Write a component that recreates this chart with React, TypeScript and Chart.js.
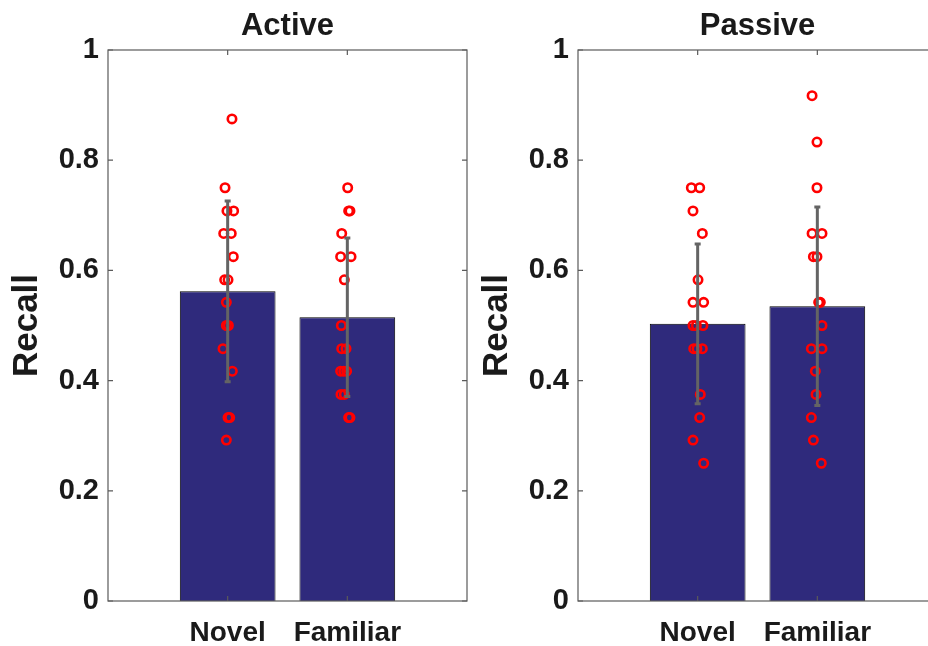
import React, { useEffect, useRef } from "react";
import { Chart, registerables } from "chart.js";

Chart.register(...registerables);

const categories = ["Novel", "Familiar"];
const yTicks = [0, 0.2, 0.4, 0.6, 0.8, 1];
const yTickLabels = ["0", "0.2", "0.4", "0.6", "0.8", "1"];

const activeMeans = [0.562, 0.515];
const activeErrors = [0.164, 0.144];
const passiveMeans = [0.503, 0.535];
const passiveErrors = [0.145, 0.18];

const activeNovel = [0.875, 0.75, 0.708, 0.708, 0.667, 0.667, 0.625, 0.583, 0.583, 0.542, 0.5, 0.5, 0.458, 0.417, 0.333, 0.333, 0.292];
const activeNovelJitter = [0.036, -0.022, -0.006, 0.05, -0.033, 0.03, 0.047, -0.025, 0.003, -0.011, -0.011, 0.006, -0.039, 0.039, 0.003, 0.017, -0.011];
const activeFamiliar = [0.75, 0.708, 0.708, 0.667, 0.625, 0.625, 0.583, 0.5, 0.458, 0.458, 0.417, 0.417, 0.417, 0.375, 0.375, 0.333, 0.333];
const activeFamiliarJitter = [0.003, 0.011, 0.022, -0.047, -0.056, 0.031, -0.025, -0.05, -0.047, -0.011, -0.056, -0.006, -0.03, -0.053, -0.025, 0.011, 0.022];

const passiveNovel = [0.75, 0.75, 0.708, 0.667, 0.583, 0.542, 0.542, 0.5, 0.5, 0.5, 0.458, 0.458, 0.458, 0.375, 0.333, 0.292, 0.25];
const passiveNovelJitter = [-0.053, 0.017, -0.039, 0.039, 0.003, -0.039, 0.05, -0.039, -0.011, 0.044, -0.033, 0.039, -0.006, 0.022, 0.017, -0.039, 0.05];
const passiveFamiliar = [0.917, 0.833, 0.75, 0.667, 0.667, 0.625, 0.625, 0.542, 0.542, 0.5, 0.458, 0.458, 0.417, 0.375, 0.333, 0.292, 0.25];
const passiveFamiliarJitter = [-0.044, -0.003, -0.003, -0.044, 0.039, -0.033, -0.003, 0.011, 0.025, 0.039, -0.05, 0.039, -0.017, -0.011, -0.05, -0.033, 0.033];

const FONT = "'Liberation Sans', Arial, Helvetica, sans-serif";
const TEXT = "#1a1a1a";
const BAR = "#2f2a7c";
const AXIS = "#5a5a5a";

const panelPlugin = {
  id: "panel",
  afterDatasetsDraw(chart: any, _args: any, opts: any) {
    const { ctx, chartArea, scales } = chart;
    const { left, right, top, bottom } = chartArea;
    const x = scales.x;
    const y = scales.y;
    ctx.save();
    // error bars
    ctx.strokeStyle = "#646464";
    ctx.lineWidth = 3;
    (opts.means as number[]).forEach((m: number, i: number) => {
      const px = x.getPixelForValue(i + 1);
      const yt = y.getPixelForValue(m + opts.errors[i]);
      const yb = y.getPixelForValue(m - opts.errors[i]);
      ctx.beginPath();
      ctx.moveTo(px, yt);
      ctx.lineTo(px, yb);
      ctx.moveTo(px - 3, yt);
      ctx.lineTo(px + 3, yt);
      ctx.moveTo(px - 3, yb);
      ctx.lineTo(px + 3, yb);
      ctx.stroke();
    });
    // box
    ctx.strokeStyle = AXIS;
    ctx.lineWidth = 1.2;
    ctx.strokeRect(left, top, right - left, bottom - top);
    // inner ticks
    ctx.beginPath();
    yTicks.forEach((v) => {
      const py = y.getPixelForValue(v);
      ctx.moveTo(left, py);
      ctx.lineTo(left + 5, py);
      ctx.moveTo(right, py);
      ctx.lineTo(right - 5, py);
    });
    categories.forEach((_c, i) => {
      const px = x.getPixelForValue(i + 1);
      ctx.moveTo(px, top);
      ctx.lineTo(px, top + 5);
      ctx.moveTo(px, bottom);
      ctx.lineTo(px, bottom - 5);
    });
    ctx.stroke();
    // title centred over the plot area
    ctx.fillStyle = TEXT;
    ctx.font = `bold 31px ${FONT}`;
    ctx.textAlign = "center";
    ctx.textBaseline = "middle";
    ctx.fillText(opts.title, (left + right) / 2, top - 24);
    ctx.restore();
  },
};

function Panel(props: {
  title: string;
  means: number[];
  errors: number[];
  novel: number[];
  novelJitter: number[];
  familiar: number[];
  familiarJitter: number[];
  left: number;
}) {
  const ref = useRef<HTMLCanvasElement>(null);
  useEffect(() => {
    const points = [
      ...props.novel.map((v, i) => ({ x: 1 + props.novelJitter[i], y: v })),
      ...props.familiar.map((v, i) => ({ x: 2 + props.familiarJitter[i], y: v })),
    ];
    const chart = new Chart(ref.current as HTMLCanvasElement, {
      type: "bar",
      data: {
        datasets: [
          {
            type: "bar",
            data: props.means.map((m, i) => ({ x: i + 1, y: m })) as any,
            backgroundColor: BAR,
            borderColor: "#000000",
            borderWidth: 1,
            barPercentage: 0.8,
            categoryPercentage: 1,
            order: 2,
          } as any,
          {
            type: "scatter",
            data: points as any,
            pointRadius: 4.2,
            pointBorderWidth: 2.6,
            borderColor: "#ff0000",
            backgroundColor: "rgba(0,0,0,0)",
            pointBackgroundColor: "rgba(0,0,0,0)",
            pointBorderColor: "#ff0000",
            order: 1,
          } as any,
        ],
      },
      options: {
        animation: false,
        responsive: false,
        events: [],
        layout: { autoPadding: false, padding: { left: 0, right: 3, top: 50, bottom: 0 } },
        plugins: {
          legend: { display: false },
          tooltip: { enabled: false },
          title: { display: false },
          panel: { means: props.means, errors: props.errors, title: props.title },
        } as any,
        scales: {
          x: {
            type: "linear",
            min: 0,
            max: 3,
            offset: false,
            grid: { display: false, drawTicks: false },
            border: { display: false },
            afterBuildTicks: (scale: any) => {
              scale.ticks = categories.map((_c, i) => ({ value: i + 1 }));
            },
            afterFit: (scale: any) => {
              scale.height = 45;
              scale.paddingLeft = 0;
              scale.paddingRight = 0;
            },
            ticks: {
              autoSkip: false,
              maxRotation: 0,
              padding: 15,
              color: TEXT,
              font: { family: FONT, size: 28, weight: "bold" },
              callback: (v: any) => categories[Math.round(Number(v)) - 1] ?? "",
            },
          },
          y: {
            type: "linear",
            min: 0,
            max: 1,
            grid: { display: false, drawTicks: false },
            border: { display: false },
            afterBuildTicks: (scale: any) => {
              scale.ticks = yTicks.map((v) => ({ value: v }));
            },
            afterFit: (scale: any) => {
              scale.width = 108;
              scale.paddingTop = 0;
              scale.paddingBottom = 0;
            },
            ticks: {
              padding: 9,
              color: TEXT,
              font: { family: FONT, size: 29, weight: "bold" },
              callback: (v: any) => yTickLabels[yTicks.findIndex((t) => Math.abs(t - Number(v)) < 1e-6)] ?? "",
            },
            title: {
              display: true,
              text: "Recall",
              color: TEXT,
              font: { family: FONT, size: 35, weight: "bold", lineHeight: 1.2 },
              padding: { top: 6, bottom: 0 },
            },
          },
        },
      } as any,
      plugins: [panelPlugin as any],
    });
    return () => chart.destroy();
  }, []);
  return (
    <div style={{ position: "absolute", left: props.left, top: 0, width: 470, height: 646 }}>
      <canvas ref={ref} width={470} height={646} style={{ width: 470, height: 646, display: "block" }} />
    </div>
  );
}

export default function App() {
  return (
    <div
      style={{
        position: "fixed",
        left: 0,
        top: 0,
        width: 928,
        height: 646,
        overflow: "hidden",
        background: "#ffffff",
      }}
    >
      <Panel
        title="Active"
        means={activeMeans}
        errors={activeErrors}
        novel={activeNovel}
        novelJitter={activeNovelJitter}
        familiar={activeFamiliar}
        familiarJitter={activeFamiliarJitter}
        left={0}
      />
      <Panel
        title="Passive"
        means={passiveMeans}
        errors={passiveErrors}
        novel={passiveNovel}
        novelJitter={passiveNovelJitter}
        familiar={passiveFamiliar}
        familiarJitter={passiveFamiliarJitter}
        left={470}
      />
    </div>
  );
}
